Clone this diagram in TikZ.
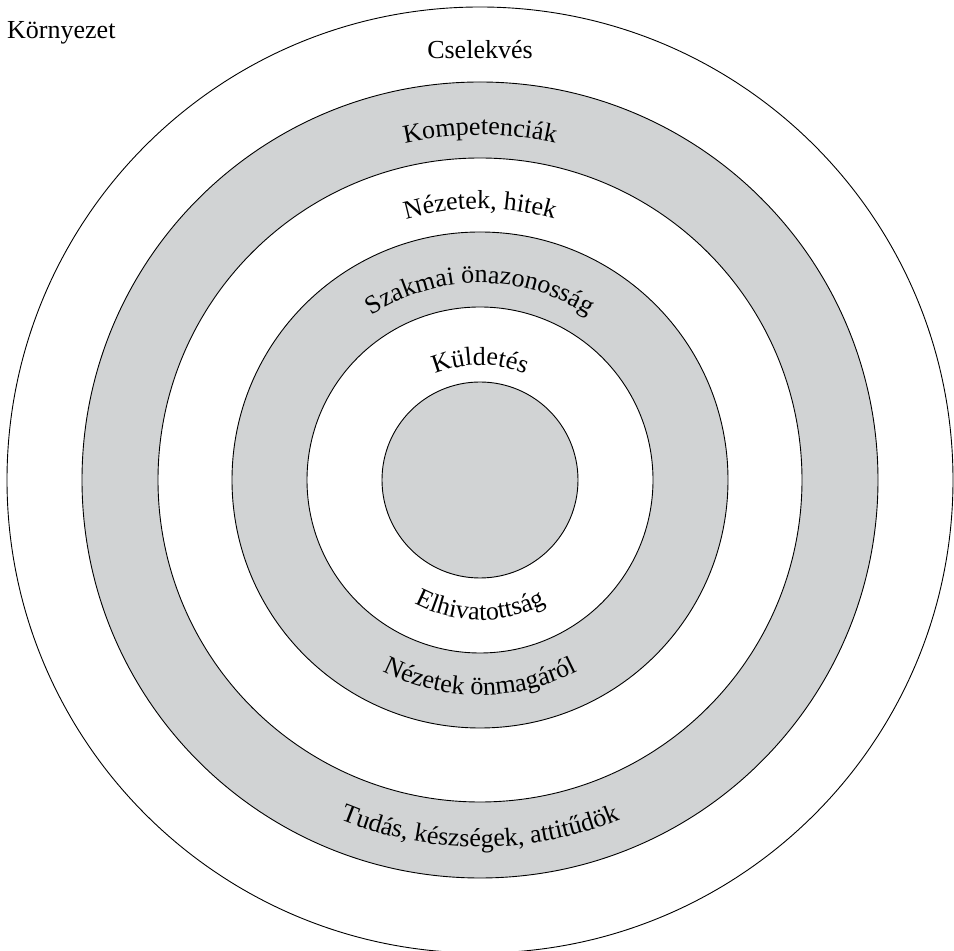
\documentclass[tikz,border=0pt]{standalone}
\usepackage{fontspec}
\setmainfont{Liberation Serif}
\usetikzlibrary{decorations.text,calc}
\definecolor{ringgray}{RGB}{209,211,212}
\newcommand{\lblfont}{\fontsize{26}{30}\selectfont}
\begin{document}
\begin{tikzpicture}[x=1pt,y=1pt,
  ring/.style={draw=black, line width=0.9pt},
  lbl/.style={font=\lblfont, inner sep=0pt},
  toparc/.style={decorate, decoration={text along path, text align=center, text={|\lblfont|#1}}},
  botarc/.style={decorate, decoration={text along path, text align=center, text={|\lblfont|#1}}}]
\useasboundingbox (0,0) rectangle (954,951);
\fill[white] (0,0) rectangle (954,951);
\coordinate (c) at (480,471);
% rings
\draw[ring, fill=white]     (c) circle[radius=473];
\draw[ring, fill=ringgray]  (c) circle[radius=398];
\draw[ring, fill=white]     (c) circle[radius=322];
\draw[ring, fill=ringgray]  (c) circle[radius=248];
\draw[ring, fill=white]     (c) circle[radius=173];
\draw[ring, fill=ringgray]  (c) circle[radius=98];
% straight labels
\node[lbl, anchor=base west] (env) at (7,912) {Környezet};
\node[lbl, anchor=base] (act) at (480,892) {Cselekvés};
% curved labels, top
\path[toparc={Kompetenciák}] ($(c)+(150:345)$) arc[start angle=150, end angle=30, radius=345];
\path[toparc={Nézetek, hitek}] ($(c)+(150:271)$) arc[start angle=150, end angle=30, radius=271];
\path[toparc={Szakmai önazonosság}] ($(c)+(160:197)$) arc[start angle=160, end angle=20, radius=197];
\path[toparc={Küldetés}] ($(c)+(160:115)$) arc[start angle=160, end angle=20, radius=115];
% curved labels, bottom
\path[botarc={Elhivatottság}] ($(c)+(200:140)$) arc[start angle=200, end angle=340, radius=140];
\path[botarc={Nézetek önmagáról}] ($(c)+(200:215)$) arc[start angle=200, end angle=340, radius=215];
\path[botarc={Tudás, készségek, attitűdök}] ($(c)+(210:367)$) arc[start angle=210, end angle=330, radius=367];
\end{tikzpicture}
\end{document}
